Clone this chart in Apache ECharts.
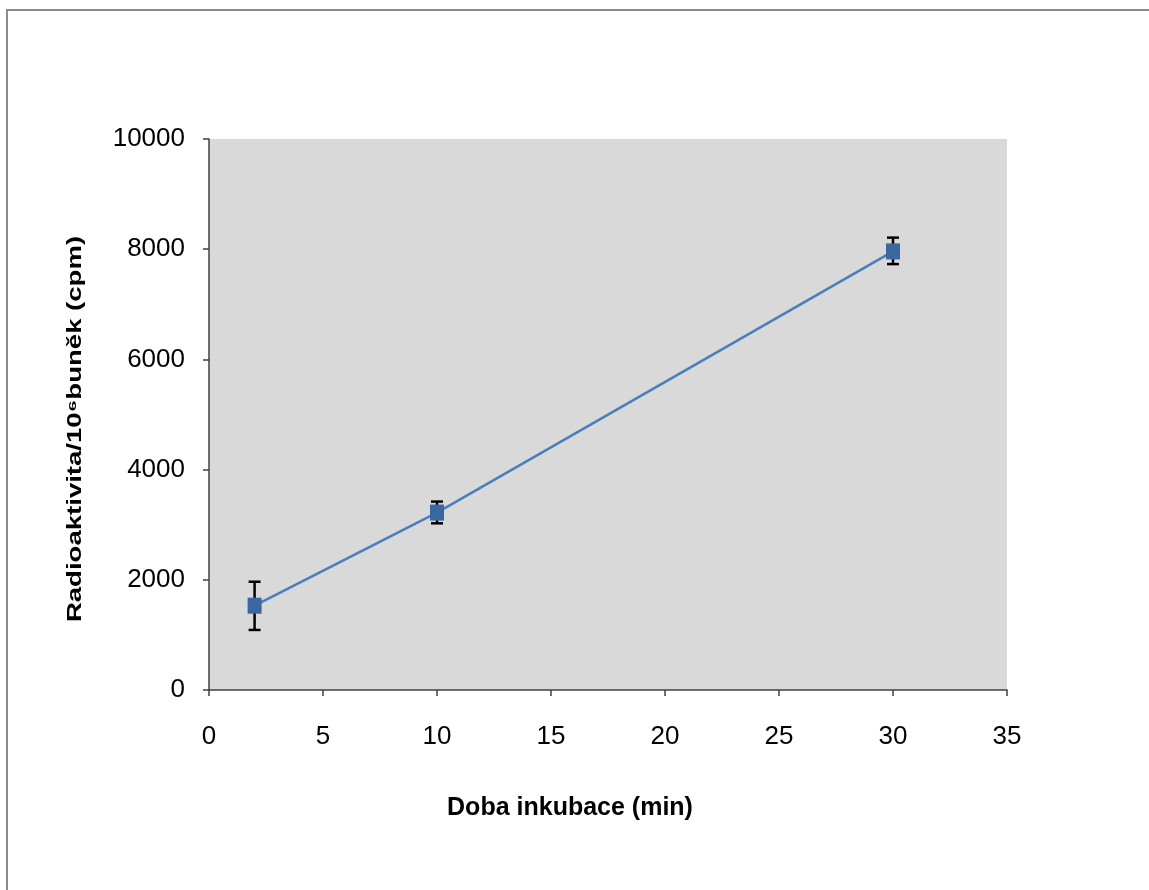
<!DOCTYPE html>
<html>
<head>
<meta charset="utf-8">
<script src="https://cdn.jsdelivr.net/npm/echarts@6/dist/echarts.min.js"></script>
<style>html,body{margin:0;padding:0;background:#fff;}#c{width:1149px;height:890px;}</style>
</head>
<body>
<div id="c"></div>
<script>
var times = [2, 10, 30];
var means = [1530, 3220, 7960];
var errLow = [1090, 3025, 7730];
var errHigh = [1965, 3420, 8210];
var xTitle = 'Doba inkubace (min)';
var yTitle = 'Radioaktivita/10\u2076bun\u011bk (cpm)';

var lineData = times.map(function (t, i) { return [t, means[i]]; });
var errData = times.map(function (t, i) { return [t, errLow[i], errHigh[i]]; });

var chart = echarts.init(document.getElementById('c'), null, {renderer: 'canvas'});
chart.setOption({
  animation: false,
  backgroundColor: '#ffffff',
  grid: {left: 209, top: 139, right: 142, bottom: 200, show: true, backgroundColor: '#d9d9d9', borderWidth: 0},
  xAxis: {
    type: 'value', min: 0, max: 35, interval: 5,
    axisLine: {show: true, lineStyle: {color: '#404040', width: 1.5}},
    axisTick: {show: true, inside: false, length: 6, lineStyle: {color: '#404040', width: 1.5}},
    axisLabel: {color: '#000', fontFamily: 'Liberation Sans', fontSize: 26, margin: 34,
      formatter: function (v) { return String(v); }},
    splitLine: {show: false}
  },
  yAxis: {
    type: 'value', min: 0, max: 10000, interval: 2000,
    axisLine: {show: true, lineStyle: {color: '#404040', width: 1.5}},
    axisTick: {show: true, inside: false, length: 6, lineStyle: {color: '#404040', width: 1.5}},
    axisLabel: {color: '#000', fontFamily: 'Liberation Sans', fontSize: 26, margin: 24,
      formatter: function (v) { return String(v); }},
    splitLine: {show: false}
  },
  graphic: [
    {type: 'rect', x: 7, y: 10, z: -10, silent: true,
      shape: {x: 0, y: 0, width: 1200, height: 1000}, style: {fill: 'none', stroke: '#8c8c8c', lineWidth: 2}},
    {type: 'text', x: 570, y: 808, style: {text: xTitle, fontFamily: 'Liberation Sans', fontWeight: 'bold', fontSize: 25, fill: '#000', align: 'center', verticalAlign: 'middle'}},
    {type: 'text', x: 76, y: 429, rotation: Math.PI / 2, scaleX: 1.45, scaleY: 1.05,
      style: {text: yTitle, fontFamily: 'Liberation Sans', fontWeight: 'bold', fontSize: 19, fill: '#000', align: 'center', verticalAlign: 'middle'}}
  ],
  series: [
    {
      type: 'custom',
      z: 1,
      data: errData,
      renderItem: function (params, api) {
        var x = api.value(0);
        var lo = api.coord([x, api.value(1)]);
        var hi = api.coord([x, api.value(2)]);
        var hw = 6;
        var st = {stroke: '#000', lineWidth: 2.5};
        return {type: 'group', children: [
          {type: 'line', shape: {x1: lo[0], y1: lo[1], x2: hi[0], y2: hi[1]}, style: st},
          {type: 'line', shape: {x1: lo[0] - hw, y1: lo[1], x2: lo[0] + hw, y2: lo[1]}, style: st},
          {type: 'line', shape: {x1: hi[0] - hw, y1: hi[1], x2: hi[0] + hw, y2: hi[1]}, style: st}
        ]};
      }
    },
    {
      type: 'line',
      z: 3,
      data: lineData,
      symbol: 'rect',
      symbolSize: [14, 16],
      lineStyle: {color: '#4a7ebb', width: 2.5},
      itemStyle: {color: '#3a67a0'}
    }
  ]
});
</script>
</body>
</html>
